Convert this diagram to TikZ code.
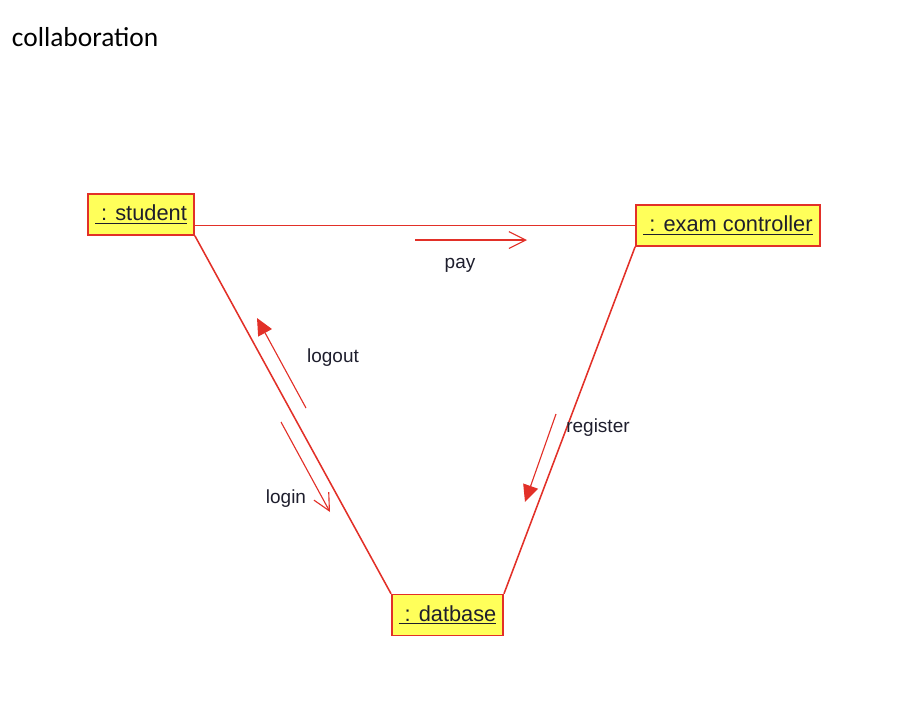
\documentclass[tikz,border=0pt]{standalone}
\usepackage{fontspec}
\setmainfont{Liberation Sans}
\newfontfamily\titlefont{Carlito}
\usetikzlibrary{arrows.meta}
\definecolor{umlred}{RGB}{226,48,40}
\definecolor{umlfill}{RGB}{255,255,90}
\definecolor{umltext}{RGB}{30,30,45}
\tikzset{obj/.style={draw=umlred,fill=umlfill,line width=1.2pt,minimum height=1.02cm,inner sep=2pt,font=\fontsize{15.5}{18}\selectfont,text=umltext}}

\begin{document}
\begin{tikzpicture}[x=0.025cm,y=-0.025cm,
    link/.style={umlred,line width=1.1pt},
    call/.style={umlred,line width=0.8pt,-{Triangle[length=12pt,width=11pt]}},
    ret/.style={umlred,line width=0.8pt,-{Straight Barb[length=12pt,width=12pt]}},
    msg/.style={font=\fontsize{13.5}{16}\selectfont,text=umltext}]
        \useasboundingbox (0,0) rectangle (916,700);
        \node[anchor=west,font=\titlefont\fontsize{19.5}{22}\selectfont] (title) at (7,37) {collaboration};
        % objects
        \node[obj,minimum width=2.65cm] (student) at (141,214.5) {\underline{ :  student}};
        \node[obj,minimum width=4.6cm] (exam) at (728,225.5) {\underline{ :  exam controller}};
        \node[obj,minimum width=2.78cm] (datbase) at (447.5,615) {\underline{ :  datbase}};
        % links
        \draw[link] (student.east |- exam.west) -- (exam.west);
        \draw[link] (student.south east) -- (datbase.north west);
        \draw[link] (exam.south west) -- (datbase.north east);
        % messages
        \coordinate (pay a) at (415,240);
        \coordinate (pay b) at (527,240);
        \coordinate (logout a) at (306,408);
        \coordinate (logout b) at (257,318);
        \coordinate (login a) at (281,422);
        \coordinate (login b) at (330,512);
        \coordinate (register a) at (556,414);
        \coordinate (register b) at (525,502);
        \draw[ret] (pay a) -- (pay b);
        \draw[call] (logout a) -- (logout b);
        \draw[ret] (login a) -- (login b);
        \draw[call] (register a) -- (register b);
        \node[msg] (pay) at (460,265) {pay};
        \node[msg] (logout) at (333,358) {logout};
        \node[msg] (login) at (286,499) {login};
        \node[msg] (register) at (598,428) {register};
    \end{tikzpicture}
\end{document}
